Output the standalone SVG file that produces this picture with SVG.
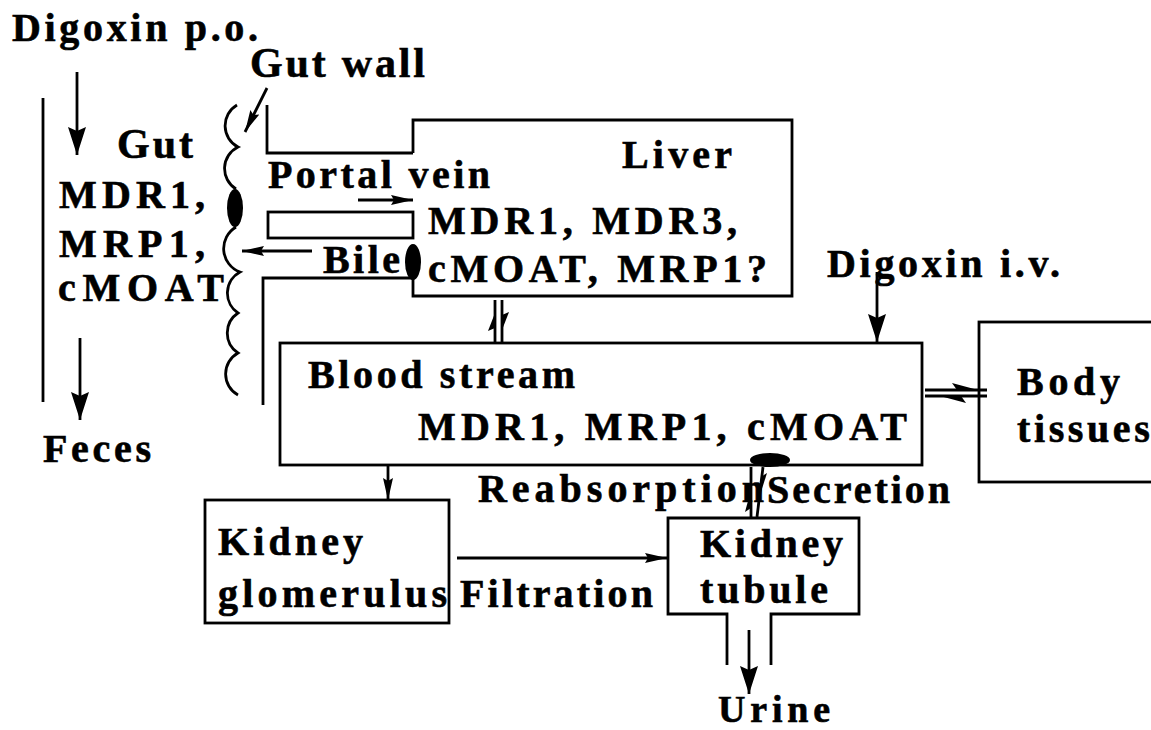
<svg xmlns="http://www.w3.org/2000/svg" width="1151" height="730" viewBox="0 0 1151 730">
<style>
text{font-family:"Liberation Serif","Times New Roman",serif;font-weight:bold;fill:#000;stroke:#000;stroke-width:0.6;font-size:40px}
.ln{fill:none;stroke:#000;stroke-width:2.8}
.fill{fill:#000;stroke:none}
</style>
<defs>
<marker id="big" markerUnits="userSpaceOnUse" markerWidth="30" markerHeight="20" refX="28" refY="10" orient="auto"><path d="M0,1 L28,10 L0,19 L4,10 z" fill="#000"/></marker>
<marker id="sm" markerUnits="userSpaceOnUse" markerWidth="24" markerHeight="12" refX="22" refY="6" orient="auto"><path d="M0,1 L22,6 L0,11 L3,6 z" fill="#000"/></marker>
</defs>
<rect width="1151" height="730" fill="#fff"/>

<g id="gut">
<line class="ln" x1="43" y1="98" x2="43" y2="402"/>
<path class="ln" d="M237,105 A24,24 0 0 0 238,147 A24,24 0 0 0 236,189 M236,227 A25,25 0 0 0 240,272 A24,24 0 0 0 238,313 A24,24 0 0 0 238,353 A24,24 0 0 0 238,395"/>
<ellipse class="fill" cx="235" cy="208" rx="8" ry="19"/>
<text x="117" y="158" textLength="76" lengthAdjust="spacing" style="font-size:42px">Gut</text>
<text x="59" y="208" textLength="146" lengthAdjust="spacing">MDR1,</text>
<text x="59" y="257" textLength="146" lengthAdjust="spacing">MRP1,</text>
<text x="58" y="301" textLength="166" lengthAdjust="spacing">cMOAT</text>
</g>

<g id="labels-left">
<text x="12" y="41" textLength="246" lengthAdjust="spacing">Digoxin p.o.</text>
<text x="250" y="77" textLength="175" lengthAdjust="spacing" style="font-size:42px">Gut wall</text>
<text x="43" y="462" textLength="108" lengthAdjust="spacing">Feces</text>
</g>

<g id="portal">
<path class="ln" d="M267,105 V153 H413"/>
<rect class="ln" x="268" y="212" width="145" height="26"/>
<path class="ln" d="M263,405 V278 H413"/>
<text x="268" y="188" textLength="222" lengthAdjust="spacing">Portal vein</text>
<text x="323" y="273" textLength="77" lengthAdjust="spacing">Bile</text>
</g>

<g id="liver">
<path class="ln" d="M413,153 V120 H792 V296 H413 V278"/>
<ellipse class="fill" cx="413" cy="262" rx="8" ry="18"/>
<text x="622" y="168" textLength="110" lengthAdjust="spacing">Liver</text>
<text x="428" y="234" textLength="309" lengthAdjust="spacing">MDR1, MDR3,</text>
<text x="428" y="282" textLength="339" lengthAdjust="spacing">cMOAT, MRP1?</text>
</g>

<g id="iv">
<text x="827" y="277" textLength="233" lengthAdjust="spacing">Digoxin i.v.</text>
</g>

<g id="blood">
<rect class="ln" x="280" y="343" width="642" height="122"/>
<ellipse class="fill" cx="770" cy="460" rx="20" ry="7"/>
<text x="308" y="388" textLength="267" lengthAdjust="spacing">Blood stream</text>
<text x="418" y="440" textLength="489" lengthAdjust="spacing">MDR1, MRP1, cMOAT</text>
</g>

<g id="body">
<rect class="ln" x="979" y="322" width="190" height="160"/>
<text x="1017" y="395" textLength="103" lengthAdjust="spacing">Body</text>
<text x="1017" y="442" style="letter-spacing:3.6px">tissues</text>
</g>

<g id="glomerulus">
<rect class="ln" x="205" y="500" width="244" height="123"/>
<text x="218" y="555" textLength="145" lengthAdjust="spacing">Kidney</text>
<text x="218" y="607" textLength="229" lengthAdjust="spacing">glomerulus</text>
</g>

<g id="tubule">
<path class="ln" d="M727,665 V614 H668 V518 H859 V614 H771 V665"/>
<text x="700" y="557" textLength="143" lengthAdjust="spacing">Kidney</text>
<text x="700" y="603" textLength="128" lengthAdjust="spacing">tubule</text>
</g>

<g id="other-labels">
<text x="478" y="502" textLength="286" lengthAdjust="spacing">Reabsorption</text>
<text x="767" y="503" textLength="183" lengthAdjust="spacing">Secretion</text>
<text x="460" y="607" textLength="193" lengthAdjust="spacing">Filtration</text>
<text x="718" y="722" textLength="112" lengthAdjust="spacing" style="font-size:38px">Urine</text>
</g>

<g id="connectors">
<line class="ln" x1="77" y1="72" x2="77" y2="155" marker-end="url(#big)"/>
<line class="ln" x1="80" y1="338" x2="80" y2="420" marker-end="url(#big)"/>
<line class="ln" x1="267" y1="88" x2="245" y2="132" marker-end="url(#sm)"/>
<line class="ln" x1="358" y1="200" x2="413" y2="200" marker-end="url(#sm)"/>
<line class="ln" x1="312" y1="251" x2="242" y2="251" marker-end="url(#sm)"/>
<line class="ln" x1="877" y1="272" x2="877" y2="342" marker-end="url(#big)"/>
<line class="ln" x1="388" y1="465" x2="388" y2="500" marker-end="url(#sm)"/>
<line class="ln" x1="457" y1="558" x2="667" y2="558" marker-end="url(#sm)"/>
<line class="ln" x1="749" y1="630" x2="749" y2="694" marker-end="url(#big)"/>
<line class="ln" x1="495" y1="342" x2="495" y2="300"/>
<path class="fill" d="M495,313 L488,331 L495,328 z"/>
<line class="ln" x1="502" y1="300" x2="502" y2="342"/>
<path class="fill" d="M502,330 L509,312 L502,315 z"/>
<line class="ln" x1="925" y1="390" x2="987" y2="390"/>
<path class="fill" d="M978,390 L952,383 L957,390 z"/>
<line class="ln" x1="925" y1="396" x2="987" y2="396"/>
<path class="fill" d="M940,396 L966,403 L961,396 z"/>
<line class="ln" x1="751" y1="517" x2="751" y2="467"/>
<path class="fill" d="M751,490 L745,512 L751,508 z"/>
<line class="ln" x1="763" y1="467" x2="757" y2="517"/>
<path class="fill" d="M760,495 L767,473 L761,477 z"/>
</g>
</svg>
